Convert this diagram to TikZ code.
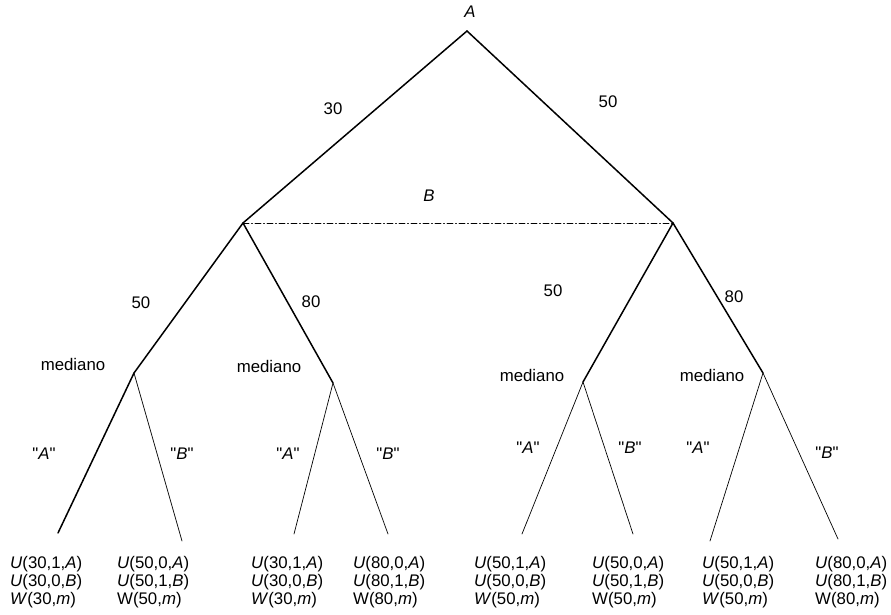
\documentclass[tikz,border=0pt]{standalone}
\usepackage{fontspec}
\setmainfont{Liberation Sans}
\usepackage{tkz-euclide}
\usetikzlibrary{calc}

\begin{document}
\begin{tikzpicture}[x=1pt,y=-1pt,font=\fontsize{16.8}{18}\selectfont,
    heavy/.style={line width=1.5pt},
    light/.style={line width=0.7pt},
    infoset/.style={line width=0.7pt,dash pattern=on 6pt off 2.5pt on 1pt off 2.5pt},
    payoff/.style={anchor=north west,align=left,inner sep=0pt}]
              \useasboundingbox (0,0) rectangle (891,615);
              % decision nodes
              \tkzDefPoint(467,31){R}
              \tkzDefPoint(243,223){P}
              \tkzDefPoint(673,223){Q}
              \tkzDefPoint(134,373){Ma}
              \tkzDefPoint(333,383){Mb}
              \tkzDefPoint(583,382){Mc}
              \tkzDefPoint(763,373){Md}
              % terminal nodes
              \tkzDefPoint(58,533){La}
              \tkzDefPoint(182,541){Lb}
              \tkzDefPoint(294,534){Lc}
              \tkzDefPoint(388,534){Ld}
              \tkzDefPoint(522,534){Le}
              \tkzDefPoint(633,534){Lf}
              \tkzDefPoint(710,541){Lg}
              \tkzDefPoint(838,539){Lh}
              \tkzDrawSegments[heavy](R,P R,Q P,Ma P,Mb Q,Mc Q,Md Ma,La)
              \tkzDrawSegments[light](Ma,Lb Mb,Lc Mb,Ld Mc,Le Mc,Lf Md,Lg Md,Lh)
              \tkzDrawSegment[infoset](P,Q)
              % labels
              \node (nA) at (470,12) {\textit{A}};
              \node (nB) at (429,196) {\textit{B}};
              \node (e30) at (333,109) {30};
              \node (e50) at (608,102) {50};
              \node (e50a) at (141,303) {50};
              \node (e80a) at (311,302) {80};
              \node (e50b) at (553,291) {50};
              \node (e80b) at (734,297) {80};
              \node (medA) at (73,364) {mediano};
              \node (medB) at (269,366) {mediano};
              \node (medC) at (532,375) {mediano};
              \node (medD) at (712,375) {mediano};
              \node (vA1) at (44,454) {\textquotedbl\textit{A}\textquotedbl};
              \node (vB1) at (182,454) {\textquotedbl\textit{B}\textquotedbl};
              \node (vA2) at (288,454) {\textquotedbl\textit{A}\textquotedbl};
              \node (vB2) at (388,454) {\textquotedbl\textit{B}\textquotedbl};
              \node (vA3) at (528,448) {\textquotedbl\textit{A}\textquotedbl};
              \node (vB3) at (630,448) {\textquotedbl\textit{B}\textquotedbl};
              \node (vA4) at (698,448) {\textquotedbl\textit{A}\textquotedbl};
              \node (vB4) at (827,453) {\textquotedbl\textit{B}\textquotedbl};
              % payoffs
              \node[payoff] (pa) at (10,556) {\textit{U}(30,1,\textit{A})\\\textit{U}(30,0,\textit{B})\\\textit{W}(30,\textit{m})};
              \node[payoff] (pb) at (117,556) {\textit{U}(50,0,\textit{A})\\\textit{U}(50,1,\textit{B})\\W(50,\textit{m})};
              \node[payoff] (pc) at (251,556) {\textit{U}(30,1,\textit{A})\\\textit{U}(30,0,\textit{B})\\\textit{W}(30,\textit{m})};
              \node[payoff] (pd) at (353,556) {\textit{U}(80,0,\textit{A})\\\textit{U}(80,1,\textit{B})\\W(80,\textit{m})};
              \node[payoff] (pe) at (474,556) {\textit{U}(50,1,\textit{A})\\\textit{U}(50,0,\textit{B})\\\textit{W}(50,\textit{m})};
              \node[payoff] (pf) at (592,556) {\textit{U}(50,0,\textit{A})\\\textit{U}(50,1,\textit{B})\\W(50,\textit{m})};
              \node[payoff] (pg) at (702,556) {\textit{U}(50,1,\textit{A})\\\textit{U}(50,0,\textit{B})\\\textit{W}(50,\textit{m})};
              \node[payoff] (ph) at (815,556) {\textit{U}(80,0,\textit{A})\\\textit{U}(80,1,\textit{B})\\W(80,\textit{m})};

            \end{tikzpicture}
\end{document}
